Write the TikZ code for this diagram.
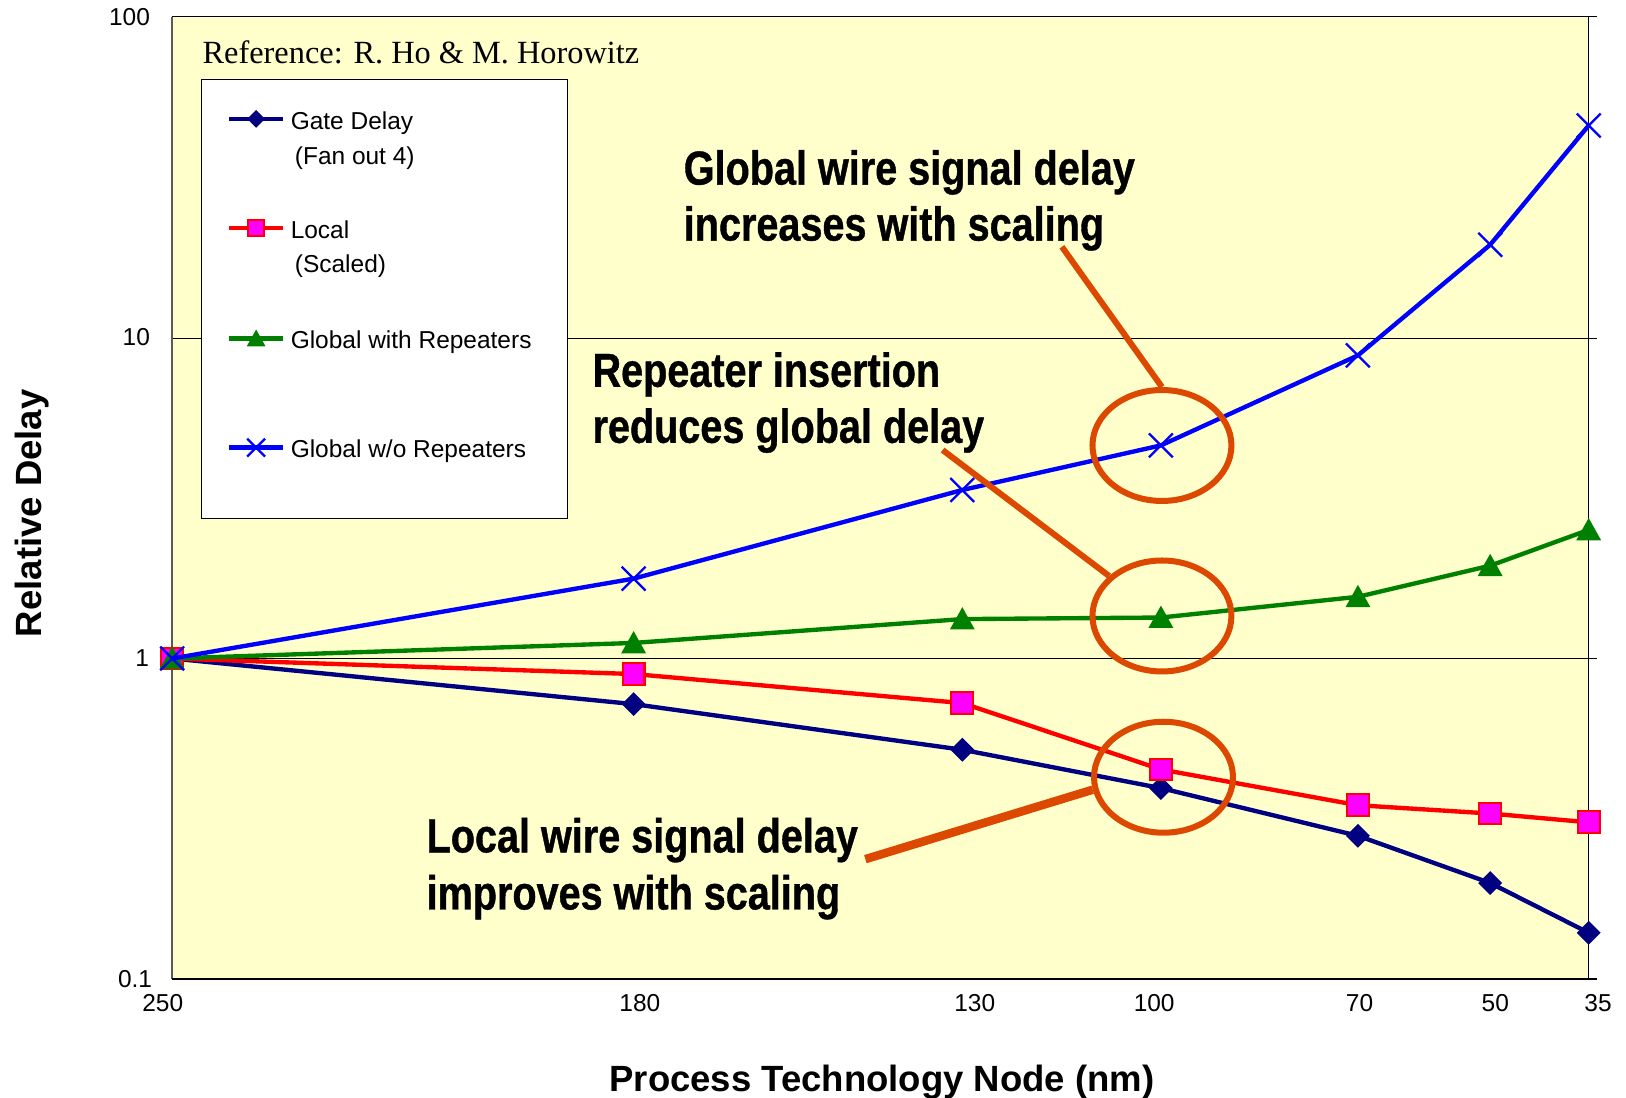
\documentclass[tikz,border=0pt]{standalone}
\usepackage{fontspec}
\usetikzlibrary{shapes.geometric}
\setmainfont{Liberation Sans}
\newfontfamily\serifref{Liberation Serif}
\newfontfamily\annfont[FakeStretch=0.83,FakeBold=0.8]{Liberation Sans Bold}
\definecolor{plotbg}{RGB}{255,255,204}
\definecolor{navyc}{RGB}{0,0,128}
\definecolor{greenc}{RGB}{0,128,0}
\definecolor{bluec}{RGB}{0,0,255}
\definecolor{redc}{RGB}{255,0,0}
\definecolor{magc}{RGB}{255,0,255}
\definecolor{annc}{RGB}{220,72,0}
\definecolor{axisgray}{RGB}{90,90,90}
\begin{document}
\begin{tikzpicture}[x=0.5pt,y=-0.5pt,
  ser/.style={line width=2.1pt, line join=round},
  gateline/.style={ser, draw=navyc},
  localline/.style={ser, draw=redc},
  repline/.style={ser, draw=greenc},
  worepline/.style={ser, draw=bluec},
  grid/.style={draw=black, line width=0.5pt},
  ticklab/.style={font=\fontsize{11.8}{13}\selectfont, inner sep=0pt},
  legtext/.style={font=\fontsize{11.8}{14}\selectfont, anchor=base west, inner sep=0pt},
  anntext/.style={font=\annfont\fontsize{23}{27}\selectfont, anchor=base west, inner sep=0pt},
  axtitle/.style={font=\fontsize{17.6}{20}\selectfont\bfseries, inner sep=0pt, anchor=base},
  ring/.style={draw=annc, line width=2.9pt, ellipse, minimum width=67pt, minimum height=53.5pt, inner sep=0pt},
  pointer/.style={draw=annc, line width=2.9pt},
  pointerthick/.style={draw=annc, line width=4.1pt},
  mdiam/.pic={\fill[navyc] (-11.5,0)--(0,-11.5)--(11.5,0)--(0,11.5)--cycle;},
  msq/.pic={\filldraw[fill=magc, draw=redc, line width=1pt] (-10.5,-10.5) rectangle (10.5,10.5);},
  mtri/.pic={\fill[greenc] (-12,10)--(12,10)--(0,-11.5)--cycle;},
  mx/.pic={\draw[bluec, line width=1.1pt] (-11.5,-11.5)--(11.5,11.5) (-11.5,11.5)--(11.5,-11.5);}
]
\useasboundingbox (0,0) rectangle (1568,1058.8);
\fill[white] (0,0) rectangle (1568,1058.8);
\fill[plotbg] (166,16) rectangle (1532,944);
% grid and axes
\draw[grid] (166,16) -- (1540,16);
\draw[grid] (166,326) -- (1540,326);
\draw[grid] (166,635) -- (1540,635);
\draw[grid] (1532,16) -- (1532,944);
\draw[draw=axisgray, line width=0.7pt] (166,16) -- (166,944);
\draw[draw=black, line width=1.1pt] (166,944) -- (1540,944);
% tick labels
\node[ticklab, anchor=east] (ya) at (145,16.5) {100};
\node[ticklab, anchor=east] (yb) at (145,325.5) {10};
\node[ticklab, anchor=east] (yc) at (144,635) {1};
\node[ticklab, anchor=east] (yd) at (147,944) {0.1};
\node[ticklab] (xa) at (157,967) {250};
\node[ticklab] (xb) at (617,967) {180};
\node[ticklab] (xc) at (940,967) {130};
\node[ticklab] (xd) at (1113,967) {100};
\node[ticklab] (xe) at (1311,967) {70};
\node[ticklab] (xf) at (1442,967) {50};
\node[ticklab] (xg) at (1541,967) {35};
% axis titles
\node[axtitle] (xtitle) at (850.5,1053) {Process Technology Node (nm)};
\node[axtitle, rotate=90] (ytitle) at (40,495) {Relative Delay};
% reference
\node[font=\serifref\fontsize{15.6}{18}\selectfont, anchor=base west, inner sep=0pt] (ref) at (195,60.8) {Reference: R. Ho \& M. Horowitz};
% legend
\draw[fill=white, draw=black, line width=0.6pt] (194,77) rectangle (547,500);
\draw[gateline] (221,114.6) -- (273,114.6);
\pic[scale=0.75] at (247,114.6) {mdiam};
\node[legtext] (lg1) at (280,124.5) {Gate Delay};
\node[legtext] (lg1b) at (284,158.4) {(Fan out 4)};
\draw[localline] (221,219.8) -- (273,219.8);
\pic[scale=0.75] at (247,219.8) {msq};
\node[legtext] (lg2) at (280,229.8) {Local};
\node[legtext] (lg2b) at (284,263) {(Scaled)};
\draw[repline] (221,326.4) -- (273,326.4);
\pic[scale=0.75] at (247,326.4) {mtri};
\node[legtext] (lg3) at (280,336) {Global with Repeaters};
\draw[worepline] (221,431.7) -- (273,431.7);
\pic[scale=0.75] at (247,431.7) {mx};
\node[legtext] (lg4) at (280,440.7) {Global w/o Repeaters};
% data
\coordinate (g1) at (166,635);
\coordinate (g2) at (611,679);
\coordinate (g3) at (928,723);
\coordinate (g4) at (1119.5,760);
\coordinate (g5) at (1309.5,806);
\coordinate (g6) at (1437,851.5);
\coordinate (g7) at (1532,899.5);
\coordinate (l1) at (166,635);
\coordinate (l2) at (611,650);
\coordinate (l3) at (928,678);
\coordinate (l4) at (1119.5,742);
\coordinate (l5) at (1309.5,776.5);
\coordinate (l6) at (1437,784.5);
\coordinate (l7) at (1532,793);
\coordinate (r1) at (166,635);
\coordinate (r2) at (611,620);
\coordinate (r3) at (928,597);
\coordinate (r4) at (1119.5,595.5);
\coordinate (r5) at (1309.5,575.5);
\coordinate (r6) at (1437,545.5);
\coordinate (r7) at (1532,511);
\coordinate (w1) at (166,635);
\coordinate (w2) at (611,558);
\coordinate (w3) at (928,472.5);
\coordinate (w4) at (1119.5,429.5);
\coordinate (w5) at (1309.5,342.7);
\coordinate (w6) at (1437,236);
\coordinate (w7) at (1532,121);
\draw[gateline] (g1)--(g2)--(g3)--(g4)--(g5)--(g6)--(g7);
\foreach \i in {1,...,7} \pic at (g\i) {mdiam};
\draw[localline] (l1)--(l2)--(l3)--(l4)--(l5)--(l6)--(l7);
\foreach \i in {1,...,7} \pic at (l\i) {msq};
\draw[repline] (r1)--(r2)--(r3)--(r4)--(r5)--(r6)--(r7);
\foreach \i in {1,...,7} \pic at (r\i) {mtri};
\draw[worepline] (w1)--(w2)--(w3)--(w4)--(w5)--(w6)--(w7);
\foreach \i in {1,...,7} \pic at (w\i) {mx};
% annotations
\node[anntext] (tglob1) at (659,178) {Global wire signal delay};
\node[anntext] (tglob2) at (659,232) {increases with scaling};
\node[anntext] (trep1) at (571,373) {Repeater insertion};
\node[anntext] (trep2) at (571,427) {reduces global delay};
\node[anntext] (tloc1) at (411,822) {Local wire signal delay};
\node[anntext] (tloc2) at (411,877) {improves with scaling};
\node[ring] (c1) at (1120.5,429.6) {};
\node[ring] (c2) at (1120.5,594) {};
\node[ring] (c3) at (1122,749.5) {};
\coordinate (p1s) at (1024,238);
\coordinate (p2s) at (909,434);
\coordinate (p3s) at (834.5,828.5);
\draw[pointer] (p1s) -- (c1.north);
\draw[pointer] (p2s) -- (c2);
\draw[pointerthick] (p3s) -- (c3.190);
\end{tikzpicture}
\end{document}
